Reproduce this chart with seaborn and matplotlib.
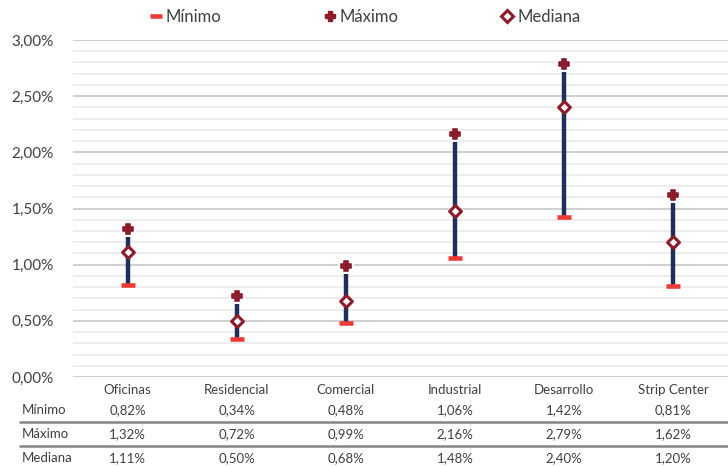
import numpy as np
import pandas as pd
import matplotlib
matplotlib.use("Agg")
import matplotlib.pyplot as plt
from matplotlib.ticker import FuncFormatter, MultipleLocator
from matplotlib.lines import Line2D
import seaborn as sns

# datos (en %)
categorias = ["Oficinas", "Residencial", "Comercial", "Industrial", "Desarrollo", "Strip Center"]
minimo = [0.82, 0.34, 0.48, 1.06, 1.42, 0.81]
maximo = [1.32, 0.72, 0.99, 2.16, 2.79, 1.62]
mediana = [1.11, 0.50, 0.68, 1.48, 2.40, 1.20]
filas = ["Mínimo", "Máximo", "Mediana"]

NAVY = "#1f2f5c"
RED_MIN = "#ee3a35"
DARK_RED = "#8e1b2a"
TXT = "#404040"

sns.set_theme(style="white")
plt.rcParams["font.family"] = ["Lato", "DejaVu Sans"]

df = pd.DataFrame({"cat": categorias, "pos": np.arange(len(categorias)),
                   "Mínimo": minimo, "Máximo": maximo, "Mediana": mediana})

fig = plt.figure(figsize=(7.28, 4.66), dpi=100)
ax = fig.add_axes([73 / 728, 89 / 466, 655 / 728, 337 / 466])

# rango min-max
ax.vlines(df["pos"], df["Mínimo"], df["Máximo"], color=NAVY, lw=3.2, zorder=2)

sns.scatterplot(data=df, x="pos", y="Mínimo", marker="_", s=100, linewidth=3.3,
                color=RED_MIN, edgecolor=RED_MIN, ax=ax, zorder=3, legend=False)
# halo blanco + cruz
sns.scatterplot(data=df, x="pos", y="Máximo", marker="P", s=120, linewidth=0,
                color="white", ax=ax, zorder=3, legend=False)
sns.scatterplot(data=df, x="pos", y="Máximo", marker="P", s=50, linewidth=1.2,
                color=DARK_RED, edgecolor=DARK_RED, ax=ax, zorder=4, legend=False)
sns.scatterplot(data=df, x="pos", y="Mediana", marker="D", s=36, linewidth=2.2,
                color="white", edgecolor=DARK_RED, ax=ax, zorder=4, legend=False)

ax.set_xlim(-0.5, len(categorias) - 0.5)
ax.set_ylim(0, 3.0)
ax.yaxis.set_major_locator(MultipleLocator(0.5))
ax.yaxis.set_minor_locator(MultipleLocator(0.1))
ax.yaxis.set_major_formatter(FuncFormatter(lambda v, p: f"{v:.2f}%".replace(".", ",")))
ax.grid(axis="y", which="major", color="#cccccc", lw=1.3)
ax.grid(axis="y", which="minor", color="#ececec", lw=1.3)
ax.set_axisbelow(True)
for s in ax.spines.values():
    s.set_visible(False)
ax.set_xticks(df["pos"])
ax.set_xticklabels(categorias)
ax.tick_params(axis="x", length=0, labelsize=9.5, colors=TXT, pad=5)
ax.tick_params(axis="y", length=0, labelsize=11, colors=TXT, pad=14, which="both")
ax.set_xlabel("")
ax.set_ylabel("")

# tabla de valores
row_y = [410, 434, 458]
for fila, yy in zip(filas, row_y):
    fig.text(22 / 728, 1 - yy / 466, fila, ha="left", va="center", fontsize=9.5, color=TXT)
    for i, v in enumerate(df[fila]):
        xfig = (73 + (i + 0.5) * 655 / 6) / 728
        fig.text(xfig, 1 - yy / 466, f"{v:.2f}%".replace(".", ","), ha="center",
                 va="center", fontsize=9.5, color=TXT)
for yy in [422, 446]:
    fig.add_artist(Line2D([20 / 728, 1], [1 - yy / 466] * 2, color="#858585", lw=1.8))

# leyenda
handles = [
    Line2D([], [], marker="_", ls="", color=RED_MIN, ms=9, mew=3.3),
    Line2D([], [], marker="P", ls="", color=DARK_RED, ms=7),
    Line2D([], [], marker="D", ls="", mfc="white", mec=DARK_RED, ms=6, mew=2.2),
]
fig.legend(handles, filas, loc="center", bbox_to_anchor=(0.5, 1 - 17 / 466), ncol=3,
           frameon=False, fontsize=12, columnspacing=6.0, handletextpad=0.1,
           handlelength=1.0, labelcolor=TXT)

fig.savefig("out.png", dpi=100)
